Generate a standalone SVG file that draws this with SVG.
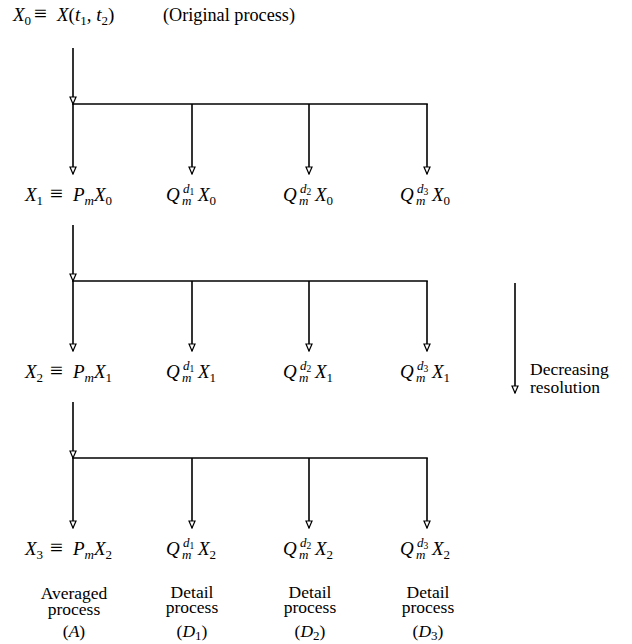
<svg xmlns="http://www.w3.org/2000/svg" width="632" height="644" viewBox="0 0 632 644" font-family="'Liberation Serif', 'DejaVu Serif', serif">
<defs>
<marker id="ad" markerWidth="8" markerHeight="9" refX="4" refY="8" orient="0" markerUnits="userSpaceOnUse" viewBox="0 0 8 9">
<path d="M1,1 L7,1 L4,8 Z" fill="#fff" stroke="#000" stroke-width="1.2"/>
</marker>
<style>
text{font-family:"Liberation Serif","DejaVu Serif",serif;fill:#000}
.t{font-size:19px}
.eq{font-size:23px}
.i{font-style:italic}
.s{font-size:13px}
.ss{font-size:9.5px}
.w{font-size:17.5px}
.c{text-anchor:middle}
line{stroke:#000;stroke-width:1.6;fill:none}
</style>
</defs>

<g id="connectors">
<line x1="73" y1="48" x2="73" y2="104" marker-end="url(#ad)"/>
<line x1="72.2" y1="104" x2="427.8" y2="104"/>
<line x1="73" y1="104" x2="73" y2="174" marker-end="url(#ad)"/>
<line x1="192" y1="104" x2="192" y2="174" marker-end="url(#ad)"/>
<line x1="309" y1="104" x2="309" y2="174" marker-end="url(#ad)"/>
<line x1="427" y1="104" x2="427" y2="174" marker-end="url(#ad)"/>

<line x1="73" y1="225" x2="73" y2="281" marker-end="url(#ad)"/>
<line x1="72.2" y1="281" x2="427.8" y2="281"/>
<line x1="73" y1="281" x2="73" y2="351" marker-end="url(#ad)"/>
<line x1="192" y1="281" x2="192" y2="351" marker-end="url(#ad)"/>
<line x1="309" y1="281" x2="309" y2="351" marker-end="url(#ad)"/>
<line x1="427" y1="281" x2="427" y2="351" marker-end="url(#ad)"/>

<line x1="73" y1="402" x2="73" y2="458" marker-end="url(#ad)"/>
<line x1="72.2" y1="458" x2="427.8" y2="458"/>
<line x1="73" y1="458" x2="73" y2="528" marker-end="url(#ad)"/>
<line x1="192" y1="458" x2="192" y2="528" marker-end="url(#ad)"/>
<line x1="309" y1="458" x2="309" y2="528" marker-end="url(#ad)"/>
<line x1="427" y1="458" x2="427" y2="528" marker-end="url(#ad)"/>

<line x1="515" y1="283" x2="515" y2="393" marker-end="url(#ad)"/>
</g>

<g id="title">
<text class="t" y="21"><tspan class="i" x="13">X</tspan><tspan class="s" dy="4">0</tspan><tspan class="eq" dy="-4" x="34">≡</tspan><tspan class="i" x="57">X</tspan><tspan>(</tspan><tspan class="i">t</tspan><tspan class="s" dy="4">1</tspan><tspan dy="-4">, </tspan><tspan class="i">t</tspan><tspan class="s" dy="4">2</tspan><tspan dy="-4">)</tspan></text>
<text class="t" x="163" y="21" textLength="132" lengthAdjust="spacingAndGlyphs">(Original process)</text>
</g>

<g id="row1">
<g id="n-x1"><text class="t" y="201"><tspan class="i" x="25">X</tspan><tspan class="s" dy="4">1</tspan><tspan class="eq" dy="-4" x="50">≡</tspan><tspan class="i" x="73">P</tspan><tspan class="s i" dy="4">m</tspan><tspan class="i" dy="-4">X</tspan><tspan class="s" dy="4">0</tspan></text></g>
<g id="n-q1x0"><text class="t" y="201"><tspan class="i" x="166">Q</tspan><tspan class="i" x="198">X</tspan><tspan class="s" dy="4">0</tspan></text><text class="s i" x="183" y="193">d<tspan class="ss" dy="2" font-style="normal">1</tspan></text><text class="s i" x="182" y="205">m</text></g>
<g id="n-q2x0"><text class="t" y="201"><tspan class="i" x="283">Q</tspan><tspan class="i" x="315">X</tspan><tspan class="s" dy="4">0</tspan></text><text class="s i" x="300" y="193">d<tspan class="ss" dy="2" font-style="normal">2</tspan></text><text class="s i" x="299" y="205">m</text></g>
<g id="n-q3x0"><text class="t" y="201"><tspan class="i" x="400">Q</tspan><tspan class="i" x="432">X</tspan><tspan class="s" dy="4">0</tspan></text><text class="s i" x="417" y="193">d<tspan class="ss" dy="2" font-style="normal">3</tspan></text><text class="s i" x="416" y="205">m</text></g>
</g>

<g id="row2">
<g id="n-x2"><text class="t" y="378"><tspan class="i" x="25">X</tspan><tspan class="s" dy="4">2</tspan><tspan class="eq" dy="-4" x="50">≡</tspan><tspan class="i" x="73">P</tspan><tspan class="s i" dy="4">m</tspan><tspan class="i" dy="-4">X</tspan><tspan class="s" dy="4">1</tspan></text></g>
<g id="n-q1x1"><text class="t" y="378"><tspan class="i" x="166">Q</tspan><tspan class="i" x="198">X</tspan><tspan class="s" dy="4">1</tspan></text><text class="s i" x="183" y="370">d<tspan class="ss" dy="2" font-style="normal">1</tspan></text><text class="s i" x="182" y="382">m</text></g>
<g id="n-q2x1"><text class="t" y="378"><tspan class="i" x="283">Q</tspan><tspan class="i" x="315">X</tspan><tspan class="s" dy="4">1</tspan></text><text class="s i" x="300" y="370">d<tspan class="ss" dy="2" font-style="normal">2</tspan></text><text class="s i" x="299" y="382">m</text></g>
<g id="n-q3x1"><text class="t" y="378"><tspan class="i" x="400">Q</tspan><tspan class="i" x="432">X</tspan><tspan class="s" dy="4">1</tspan></text><text class="s i" x="417" y="370">d<tspan class="ss" dy="2" font-style="normal">3</tspan></text><text class="s i" x="416" y="382">m</text></g>
</g>

<g id="row3">
<g id="n-x3"><text class="t" y="555"><tspan class="i" x="25">X</tspan><tspan class="s" dy="4">3</tspan><tspan class="eq" dy="-4" x="50">≡</tspan><tspan class="i" x="73">P</tspan><tspan class="s i" dy="4">m</tspan><tspan class="i" dy="-4">X</tspan><tspan class="s" dy="4">2</tspan></text></g>
<g id="n-q1x2"><text class="t" y="555"><tspan class="i" x="166">Q</tspan><tspan class="i" x="198">X</tspan><tspan class="s" dy="4">2</tspan></text><text class="s i" x="183" y="547">d<tspan class="ss" dy="2" font-style="normal">1</tspan></text><text class="s i" x="182" y="559">m</text></g>
<g id="n-q2x2"><text class="t" y="555"><tspan class="i" x="283">Q</tspan><tspan class="i" x="315">X</tspan><tspan class="s" dy="4">2</tspan></text><text class="s i" x="300" y="547">d<tspan class="ss" dy="2" font-style="normal">2</tspan></text><text class="s i" x="299" y="559">m</text></g>
<g id="n-q3x2"><text class="t" y="555"><tspan class="i" x="400">Q</tspan><tspan class="i" x="432">X</tspan><tspan class="s" dy="4">2</tspan></text><text class="s i" x="417" y="547">d<tspan class="ss" dy="2" font-style="normal">3</tspan></text><text class="s i" x="416" y="559">m</text></g>
</g>

<g id="legend">
<g id="n-a"><text class="w c" x="74" y="599">Averaged</text><text class="w c" x="74" y="615">process</text><text class="w c" x="74" y="637">(<tspan class="i">A</tspan>)</text></g>
<g id="n-d1"><text class="w c" x="192" y="598">Detail</text><text class="w c" x="192" y="613">process</text><text class="w c" x="192" y="637">(<tspan class="i">D</tspan><tspan class="s" dy="3">1</tspan><tspan dy="-3">)</tspan></text></g>
<g id="n-d2"><text class="w c" x="310" y="598">Detail</text><text class="w c" x="310" y="613">process</text><text class="w c" x="310" y="637">(<tspan class="i">D</tspan><tspan class="s" dy="3">2</tspan><tspan dy="-3">)</tspan></text></g>
<g id="n-d3"><text class="w c" x="428" y="598">Detail</text><text class="w c" x="428" y="613">process</text><text class="w c" x="428" y="637">(<tspan class="i">D</tspan><tspan class="s" dy="3">3</tspan><tspan dy="-3">)</tspan></text></g>
<g id="n-res"><text class="w" x="530" y="375">Decreasing</text><text class="w" x="530" y="393">resolution</text></g>
</g>
</svg>
